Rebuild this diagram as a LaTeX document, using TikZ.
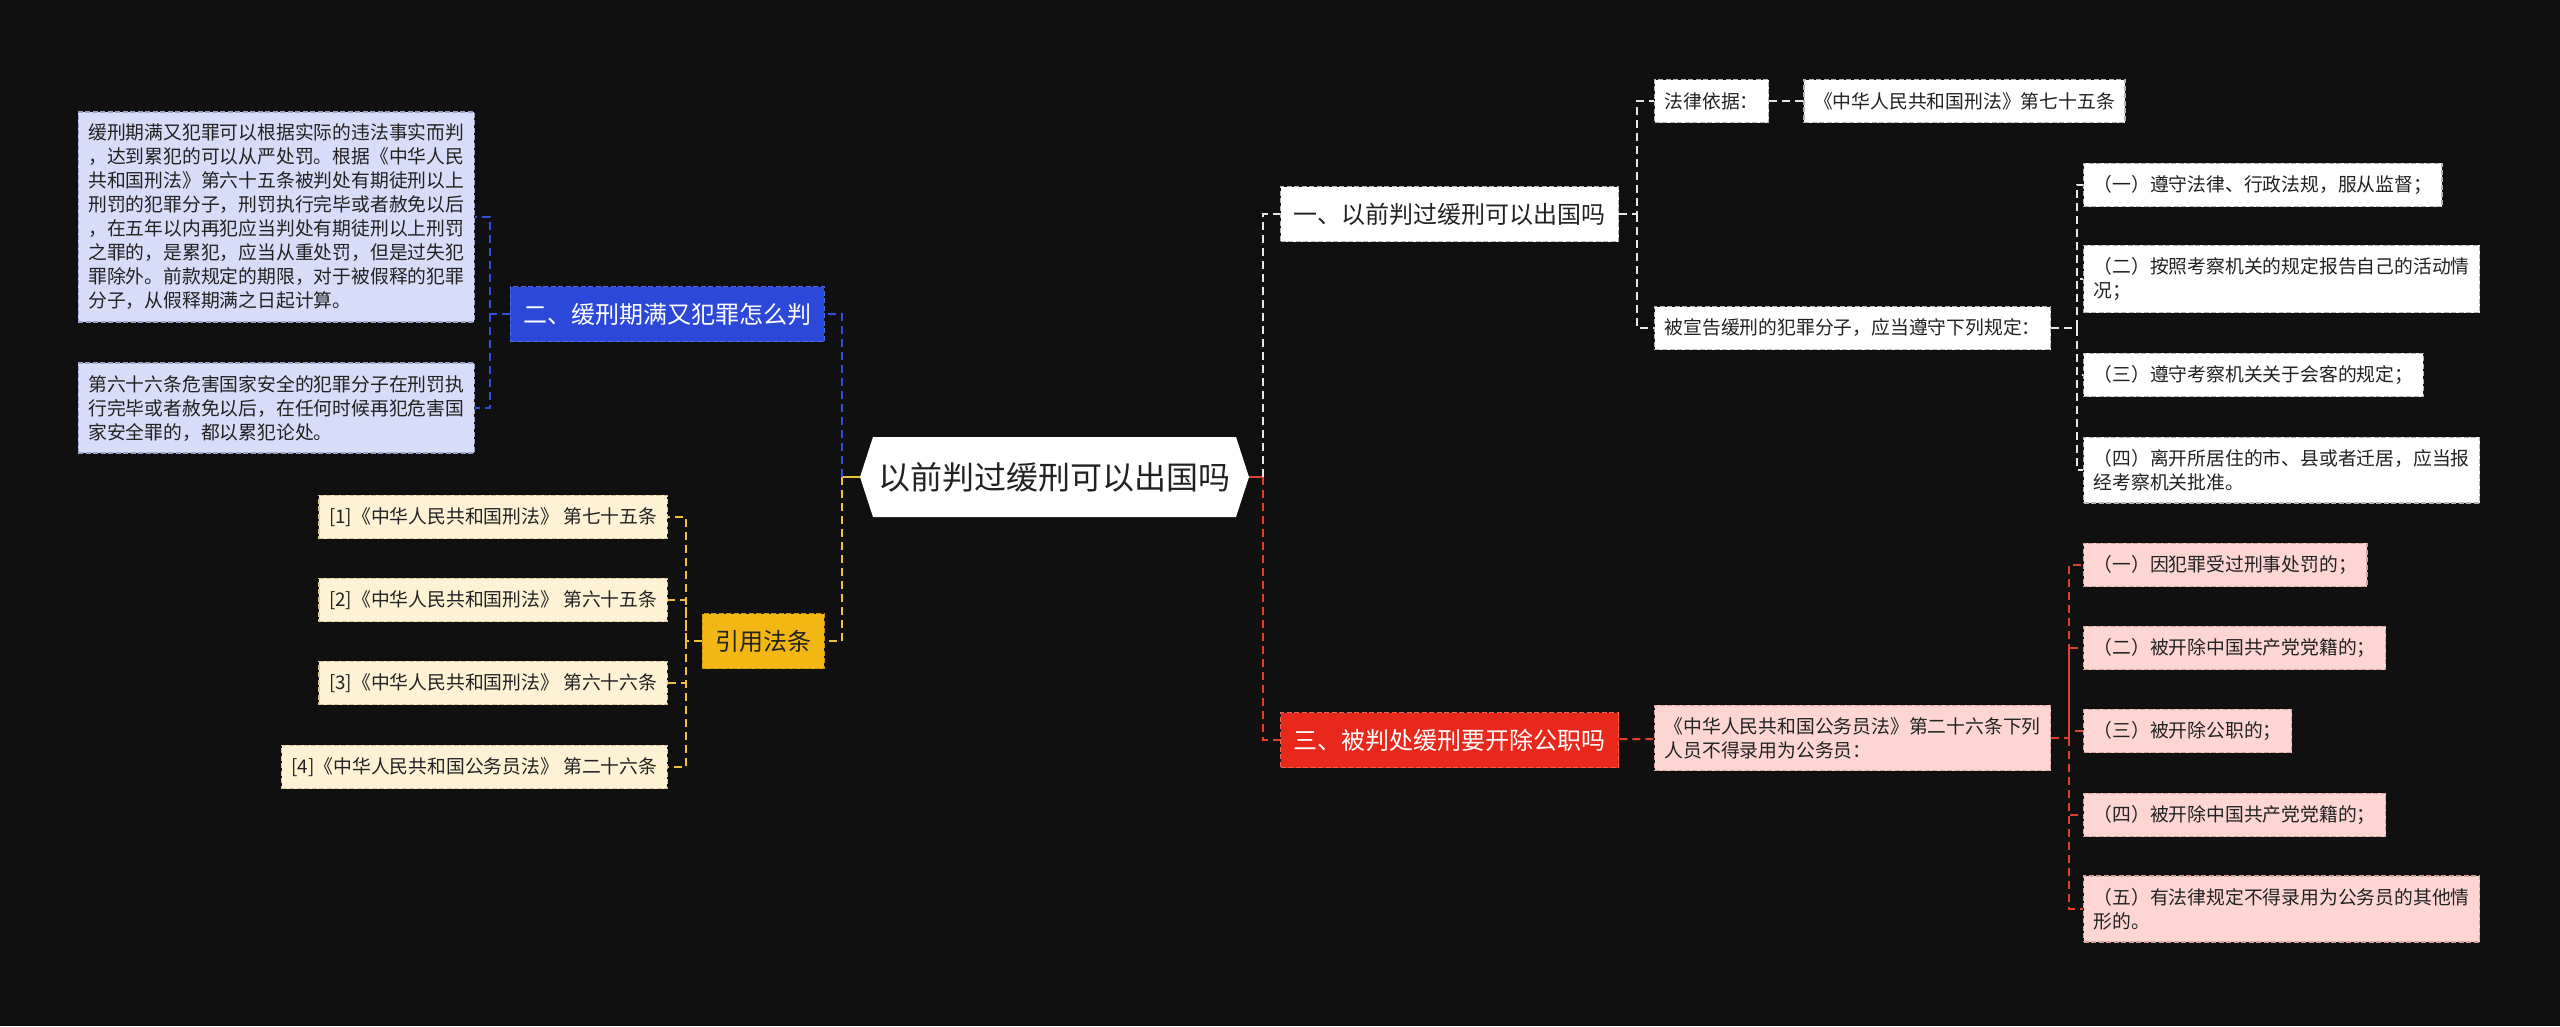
\documentclass[tikz,border=0pt]{standalone}
\usepackage{fontspec}
\setmainfont{Noto Sans CJK SC}
\usetikzlibrary{positioning,shapes.symbols}
\definecolor{bgc}{HTML}{101010}
\definecolor{txtdark}{HTML}{222222}
\definecolor{bluef}{HTML}{2B48D8}
\definecolor{blued}{HTML}{5068E6}
\definecolor{bluel}{HTML}{D7DCF8}
\definecolor{blueb}{HTML}{9AA3CC}
\definecolor{blueln}{HTML}{3450D6}
\definecolor{goldf}{HTML}{F2B713}
\definecolor{goldd}{HTML}{C99510}
\definecolor{goldl}{HTML}{FDF2D3}
\definecolor{goldb}{HTML}{D8C697}
\definecolor{goldln}{HTML}{EFC13A}
\definecolor{grayb}{HTML}{B5B5B5}
\definecolor{whiteln}{HTML}{E6E6E6}
\definecolor{redf}{HTML}{E9281C}
\definecolor{redd}{HTML}{F26050}
\definecolor{pinkl}{HTML}{FDD6D3}
\definecolor{pinkb}{HTML}{D5A29E}
\definecolor{redln}{HTML}{E0412F}

\begin{document}
\begin{tikzpicture}[
  x=1pt,y=-1pt,
  every node/.style={font=\fontsize{18.8}{24}\selectfont,text=txtdark,align=left,inner xsep=10pt,inner ysep=12pt},
  leaf/.style={draw,line width=1.4pt,dash pattern=on 5pt off 2.5pt,minimum height=43pt},
  head/.style={leaf,font=\fontsize{24}{28}\selectfont,inner xsep=13pt,minimum height=55pt},
  rootnode/.style={signal,signal to=west and east,signal pointer angle=144,fill=white,
    font=\fontsize{32}{38}\selectfont,minimum width=389pt,minimum height=80pt,inner sep=0pt},
  bluehead/.style={head,fill=bluef,draw=blued,text=white},
  bluebox/.style={leaf,fill=bluel,draw=blueb},
  goldhead/.style={head,fill=goldf,draw=goldd},
  goldbox/.style={leaf,fill=goldl,draw=goldb},
  whitehead/.style={head,fill=white,draw=grayb},
  whitebox/.style={leaf,fill=white,draw=grayb},
  redhead/.style={head,fill=redf,draw=redd,text=white},
  pinkbox/.style={leaf,fill=pinkl,draw=pinkb},
  link/.style={line width=2pt,dash pattern=on 8pt off 5pt},
  stub/.style={line width=2pt}
]
\fill[bgc] (0,0) rectangle (2560,1026);
\useasboundingbox (0,0) rectangle (2560,1026);

% centre
\node[rootnode] (root) at (1054.5,477) {以前判过缓刑可以出国吗};
\coordinate (lj) at (842,477);
\coordinate (rj) at (1263,477);

% left branches
\node[bluehead,anchor=east] (recid) at (825,314) {二、缓刑期满又犯罪怎么判};
\node[bluebox,anchor=east] (recid1) at (475,217) {缓刑期满又犯罪可以根据实际的违法事实而判\\，达到累犯的可以从严处罚。根据《中华人民\\共和国刑法》第六十五条被判处有期徒刑以上\\刑罚的犯罪分子，刑罚执行完毕或者赦免以后\\，在五年以内再犯应当判处有期徒刑以上刑罚\\之罪的，是累犯，应当从重处罚，但是过失犯\\罪除外。前款规定的期限，对于被假释的犯罪\\分子，从假释期满之日起计算。};
\node[bluebox,anchor=east] (recid2) at (475,408) {第六十六条危害国家安全的犯罪分子在刑罚执\\行完毕或者赦免以后，在任何时候再犯危害国\\家安全罪的，都以累犯论处。};

\node[goldhead,anchor=east] (cite) at (825,641) {引用法条};
\node[goldbox,anchor=east] (ref1) at (668,517) {[1]《中华人民共和国刑法》 第七十五条};
\node[goldbox,anchor=east] (ref2) at (668,600) {[2]《中华人民共和国刑法》 第六十五条};
\node[goldbox,anchor=east] (ref3) at (668,683) {[3]《中华人民共和国刑法》 第六十六条};
\node[goldbox,anchor=east] (ref4) at (668,767) {[4]《中华人民共和国公务员法》 第二十六条};

% right branches
\node[whitehead,anchor=west] (travel) at (1280,214) {一、以前判过缓刑可以出国吗};
\node[whitebox,anchor=west] (basis) at (1654,101) {法律依据：};
\node[whitebox,right=34pt of basis] (basisref) {《中华人民共和国刑法》第七十五条};
\node[whitebox,anchor=west] (rules) at (1654,328) {被宣告缓刑的犯罪分子，应当遵守下列规定：};
\node[whitebox,anchor=west] (rule1) at (2083,185) {（一）遵守法律、行政法规，服从监督；};
\node[whitebox,anchor=west] (rule2) at (2083,279) {（二）按照考察机关的规定报告自己的活动情\\况；};
\node[whitebox,anchor=west] (rule3) at (2083,375) {（三）遵守考察机关关于会客的规定；};
\node[whitebox,anchor=west] (rule4) at (2083,470) {（四）离开所居住的市、县或者迁居，应当报\\经考察机关批准。};

\node[redhead,anchor=west] (dismiss) at (1280,740) {三、被判处缓刑要开除公职吗};
\node[pinkbox,anchor=west] (bar) at (1654,738) {《中华人民共和国公务员法》第二十六条下列\\人员不得录用为公务员：};
\node[pinkbox,anchor=west] (bar1) at (2083,565) {（一）因犯罪受过刑事处罚的；};
\node[pinkbox,anchor=west] (bar2) at (2083,648) {（二）被开除中国共产党党籍的；};
\node[pinkbox,anchor=west] (bar3) at (2083,731) {（三）被开除公职的；};
\node[pinkbox,anchor=west] (bar4) at (2083,815) {（四）被开除中国共产党党籍的；};
\node[pinkbox,anchor=west] (bar5) at (2083,909) {（五）有法律规定不得录用为公务员的其他情\\形的。};

% connectors
\draw[stub,goldln] (root.west) -- (lj);
\draw[link,blueln] (lj) |- (recid.east);
\draw[link,goldln] (lj) |- (cite.east);
\draw[link,blueln] (recid.west) -- ++(-20,0) coordinate (bj) |- (recid1.east);
\draw[link,blueln] (bj) |- (recid2.east);
\draw[link,goldln] (cite.west) -- ++(-16,0) coordinate (cj) |- (ref1.east);
\foreach \i in {2,3,4} \draw[link,goldln] (cj) |- (ref\i.east);

\draw[stub,redln] (root.east) -- (rj);
\draw[link,whiteln] (rj) |- (travel.west);
\draw[link,redln] (rj) |- (dismiss.west);
\draw[link,whiteln] (travel.east) -- ++(18,0) coordinate (wj) |- (basis.west);
\draw[link,whiteln] (wj) |- (rules.west);
\draw[link,whiteln] (basis) -- (basisref);
\draw[link,whiteln] (rules.east) -- ++(26,0) coordinate (sj) |- (rule1.west);
\foreach \i in {2,3,4} \draw[link,whiteln] (sj) |- (rule\i.west);
\draw[link,redln] (dismiss) -- (bar);
\draw[link,redln] (bar.east) -- ++(18,0) coordinate (pj) |- (bar1.west);
\foreach \i in {2,...,5} \draw[link,redln] (pj) |- (bar\i.west);
\end{tikzpicture}
\end{document}
